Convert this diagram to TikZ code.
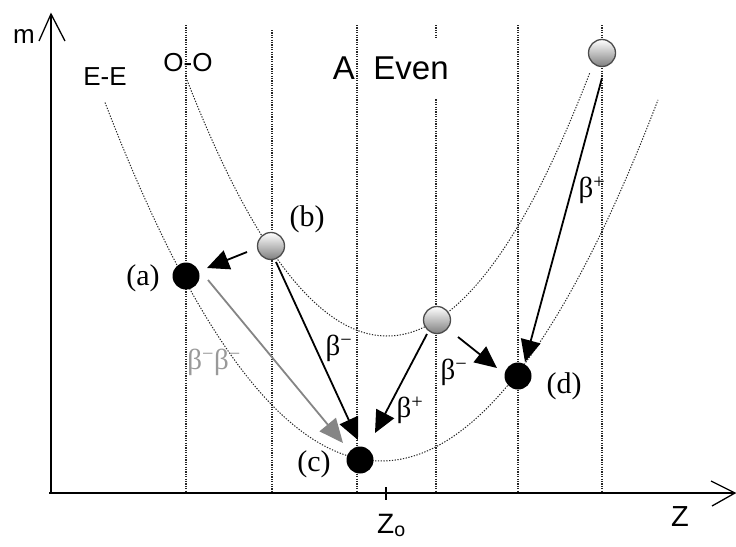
\documentclass[tikz,border=0pt]{standalone}
\usepackage{fontspec}
\setmainfont{Liberation Serif}
\newfontfamily\sansf{Liberation Sans}
\usetikzlibrary{arrows.meta,calc}
\begin{document}
\begin{tikzpicture}[x=1pt,y=-1pt,
  vline/.style={line width=1.2pt, dash pattern=on 1.2pt off 1.2pt, black!85},
  curve/.style={line width=1pt, dash pattern=on 1.3pt off 1.5pt, black!85},
  axisline/.style={line width=1.3pt},
  blackdot/.style={circle, fill=black, minimum size=27pt, inner sep=0pt},
  graydot/.style={circle, draw=black!70, line width=1.3pt, top color=white, bottom color=black!50, minimum size=27pt, inner sep=0pt},
  arr/.style={line width=1.8pt, -{Triangle[length=22pt,width=20pt]}},
  garr/.style={line width=1.8pt, draw=black!48, -{Triangle[length=24pt,width=21pt]}},
  slab/.style={font=\sansf\fontsize{26}{30}\selectfont, inner sep=0pt},
  plab/.style={font=\fontsize{30}{36}\selectfont, inner sep=0pt},
  blab/.style={font=\fontsize{29}{34}\selectfont, inner sep=0pt},
  toplab/.style={font=\sansf\fontsize{33}{40}\selectfont, fill=white, inner sep=0pt, minimum height=60pt},
]
\useasboundingbox (0,0) rectangle (736,546);

% axes
\coordinate (ytop) at (51,14);
\coordinate (xend) at (735,493);
\draw[axisline] (51,493) -- (ytop);
\draw[axisline] (39,41) -- (ytop) -- (65,41);
\draw[axisline] (49,493) -- (xend);
\draw[axisline] (711,481) -- (xend) -- (712,506);
\draw[line width=1.1pt] (386,487) -- (386,500);

% vertical dotted lines
\foreach \xx/\yy in {186/25, 272/30, 357/25, 436/25, 518/25, 602/25}
  \draw[vline] (\xx,\yy) -- (\xx,493);

% parabolas
\draw[curve] plot[domain=105:658, samples=90, smooth] (\x, {461-(0.0686*(\x-381))^2});
\draw[curve] plot[domain=187:590, samples=90, smooth] (\x, {336-(0.08*(\x-387))^2});

% top labels
\node[toplab] (lA) at (344,68) {A};
\node[toplab] (lEven) at (411,68) {Even};
\node[slab] (lm) at (24,37) {m};
\node[slab] (lee) at (105,77) {E-E};
\node[slab] (loo) at (188,63) {O-O};
\node[font=\sansf\fontsize{29}{34}\selectfont, inner sep=0pt] (lz) at (680,517) {Z};
\node[font=\sansf\fontsize{28}{34}\selectfont, inner sep=0pt, anchor=base west] (lz0) at (377,533) {Z\textsubscript{o}};

% nuclei
\node[blackdot] (a) at (186,276) {};
\node[graydot] (b) at (271,246) {};
\node[blackdot] (c) at (360,460) {};
\node[blackdot] (d) at (518,376) {};
\node[graydot] (m) at (437,320) {};
\node[graydot] (t) at (602,53) {};

% decays
\draw[garr] ([shift={(22,4)}]a.center) -- ([shift={(-17,-17)}]c.center);
\draw[arr] ([shift={(-24,6)}]b.center) -- ([shift={(21,-8)}]a.center);
\draw[arr] ([shift={(5,16)}]b.center) -- ([shift={(-2,-20)}]c.center);
\draw[arr] ([shift={(-10,14)}]m.center) -- ([shift={(15,-27)}]c.center);
\draw[arr] ([shift={(21,17)}]m.center) -- ([shift={(-21,-8)}]d.center);
\draw[arr] ([shift={(0,25)}]t.center) -- ([shift={(7,-14)}]d.center);

% labels
\node[plab] (la) at (143,278) {(a)};
\node[plab] (lb) at (307,219) {(b)};
\node[plab] (lc) at (314,464) {(c)};
\node[plab] (ld) at (564,386) {(d)};
\node[blab, text=black!40] (lbb) at (214,362) {β\textsuperscript{−}β\textsuperscript{−}};
\node[blab] (lb1) at (339,348) {β\textsuperscript{−}};
\node[blab] (lb2) at (410,410) {β\textsuperscript{+}};
\node[blab] (lb3) at (454,372) {β\textsuperscript{−}};
\node[blab] (lb4) at (592,190) {β\textsuperscript{+}};
\end{tikzpicture}
\end{document}
